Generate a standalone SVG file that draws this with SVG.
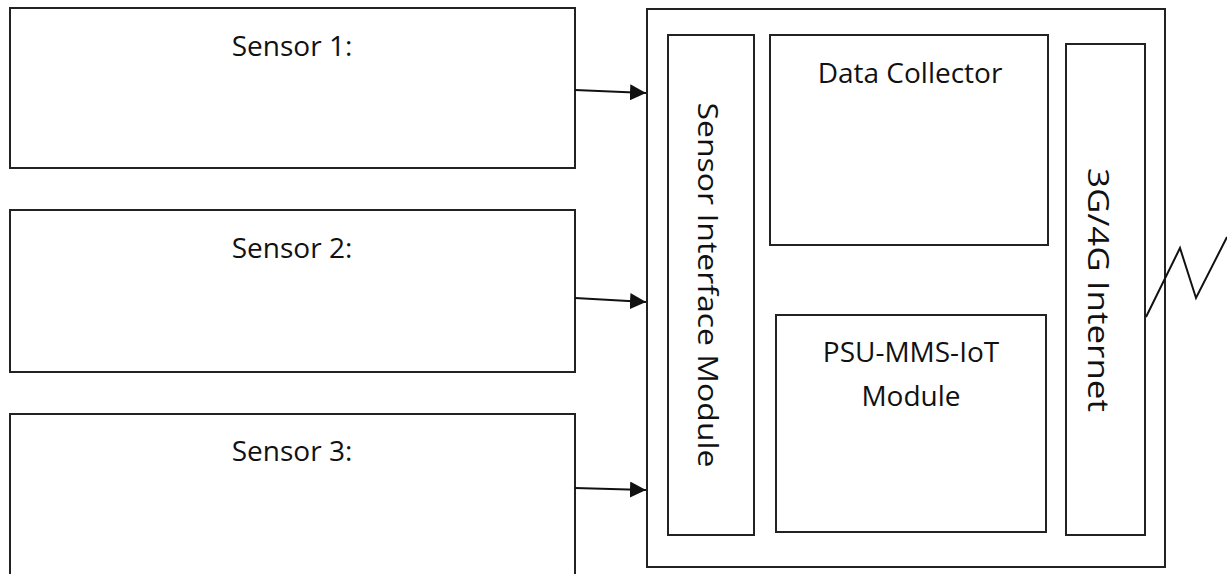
<svg xmlns="http://www.w3.org/2000/svg" width="1227" height="574" viewBox="0 0 1227 574">
<style>
.box{fill:#fff;stroke:#222;stroke-width:2}
.t{font-family:"Open Sans","Liberation Sans",sans-serif;font-size:28px;fill:#111;text-anchor:middle}
.c{fill:none;stroke:#111;stroke-width:2}
</style>
<defs>
<marker id="ah" viewBox="0 0 10 10" refX="10" refY="5" markerWidth="8" markerHeight="8" orient="auto" markerUnits="strokeWidth">
<path d="M0,0 L10,5 L0,10 z" fill="#111"/>
</marker>
</defs>
<rect width="1227" height="574" fill="#fff"/>
<g id="sensor1"><rect class="box" x="10" y="8" width="565" height="160"/><text class="t" x="292" y="56">Sensor 1:</text></g>
<g id="sensor2"><rect class="box" x="10" y="210" width="565" height="162"/><text class="t" x="292" y="258">Sensor 2:</text></g>
<g id="sensor3"><rect class="box" x="10" y="414" width="565" height="170"/><text class="t" x="292" y="461">Sensor 3:</text></g>
<g id="gateway"><rect class="box" x="647" y="9" width="518" height="558"/></g>
<g id="sim"><rect class="box" x="668" y="35" width="86" height="500"/><text class="t" style="font-size:27px" textLength="365" lengthAdjust="spacingAndGlyphs" transform="translate(698,285) rotate(90)">Sensor Interface Module</text></g>
<g id="collector"><rect class="box" x="770" y="35" width="278" height="210"/><text class="t" x="910" y="83">Data Collector</text></g>
<g id="psu"><rect class="box" x="776" y="315" width="270" height="217"/><text class="t" x="911" y="362">PSU-MMS-IoT</text><text class="t" x="911" y="406">Module</text></g>
<g id="net"><rect class="box" x="1066" y="44" width="79" height="491"/><text class="t" style="font-size:30px" textLength="244" lengthAdjust="spacingAndGlyphs" transform="translate(1088,290) rotate(90)">3G/4G Internet</text></g>
<g id="connectors">
<line class="c" x1="575" y1="90" x2="646" y2="93" marker-end="url(#ah)"/>
<line class="c" x1="575" y1="298" x2="646" y2="302" marker-end="url(#ah)"/>
<line class="c" x1="575" y1="488" x2="646" y2="490" marker-end="url(#ah)"/>
<polyline class="c" points="1146,317 1180,248 1196,298 1227,237"/>
</g>
</svg>
